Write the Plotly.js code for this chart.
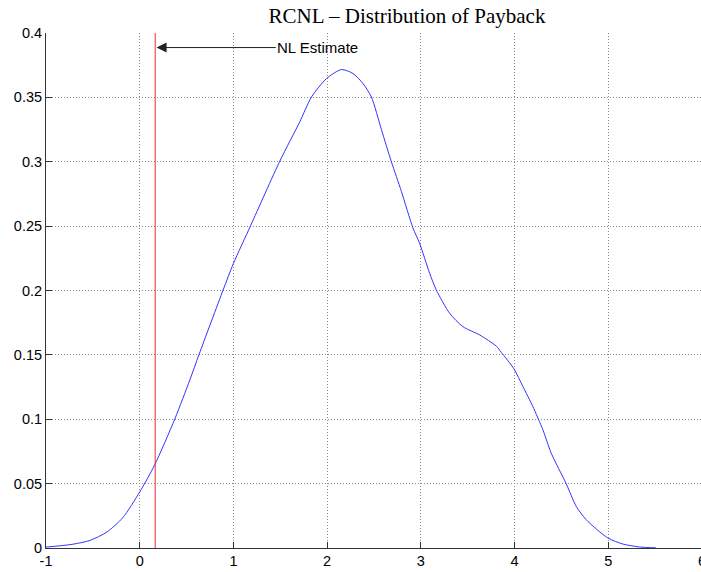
<!DOCTYPE html>
<html>
<head>
<meta charset="utf-8">
<script src="https://cdn.plot.ly/plotly-3.0.1.min.js"></script>
<style>
  html, body { margin: 0; padding: 0; overflow: hidden; background: #fff; }
  #chart { width: 710px; height: 572px; }
</style>
</head>
<body>
<div id="chart"></div>
<script>
// Kernel density of the payback estimate (RCNL model)
const payback = [-1.0, -0.85, -0.7, -0.53, -0.35, -0.18, 0.0, 0.16, 0.375, 0.535, 0.634, 0.89, 1.0,
  1.186, 1.495, 1.708, 1.833, 1.993, 2.153, 2.277, 2.383, 2.472, 2.579, 2.686, 2.792, 2.916,
  2.987, 3.094, 3.165, 3.307, 3.449, 3.627, 3.805, 3.858, 3.993, 4.089, 4.195, 4.302, 4.391,
  4.551, 4.658, 4.764, 4.995, 5.155, 5.333, 5.51];
const density = [0.0007, 0.0017, 0.0031, 0.0059, 0.0124, 0.0236, 0.0435, 0.0646, 0.1003, 0.1306,
  0.1505, 0.2004, 0.221, 0.2508, 0.3005, 0.331, 0.3503, 0.3646, 0.3716, 0.3685, 0.3607, 0.3503,
  0.325, 0.2999, 0.277, 0.2485, 0.2366, 0.2133, 0.2004, 0.1823, 0.1719, 0.1655, 0.1568, 0.152,
  0.1392, 0.1254, 0.1099, 0.0918, 0.0737, 0.0499, 0.0323, 0.022, 0.0078, 0.0031, 0.0008, 0.0001];

// Point estimate from the nested logit model
const nlEstimate = 0.165;
const nlLabel = 'NL Estimate';

const xTicks = [-1, 0, 1, 2, 3, 4, 5, 6];
const xTickText = ['-1', '0', '1', '2', '3', '4', '5', '6'];
const yTicks = [0, 0.05, 0.1, 0.15, 0.2, 0.25, 0.3, 0.35, 0.4];
const yTickText = ['0', '0.05', '0.1', '0.15', '0.2', '0.25', '0.3', '0.35', '0.4'];

const axisFont = { family: 'Liberation Sans, Arial, sans-serif', size: 14.5, color: '#000' };

const traces = [
  {
    x: payback, y: density, type: 'scatter', mode: 'lines',
    line: { color: '#3333ff', width: 1, shape: 'spline', smoothing: 0.7 },
    hoverinfo: 'skip'
  },
  {
    x: [nlEstimate, nlEstimate], y: [0, 0.4], type: 'scatter', mode: 'lines',
    line: { color: 'rgb(235,45,45)', width: 1 },
    hoverinfo: 'skip'
  }
];

const gridStyle = { showgrid: true, gridcolor: '#8a8a8a', gridwidth: 1, griddash: '1px,2px' };

const layout = {
  width: 710, height: 572,
  margin: { l: 46, r: 8, t: 32.7, b: 23.7, pad: 0 },
  paper_bgcolor: '#fff', plot_bgcolor: '#fff',
  showlegend: false,
  title: {
    text: 'RCNL \u2013 Distribution of Payback',
    font: { family: 'Liberation Serif, Times New Roman, serif', size: 21, color: '#000' },
    x: 407 / 710, xref: 'container', xanchor: 'center',
    y: 1 - 16 / 572, yref: 'container', yanchor: 'middle'
  },
  xaxis: Object.assign({
    range: [-1, 6], tickmode: 'array', tickvals: xTicks, ticktext: xTickText,
    ticks: 'inside', ticklen: 6, tickcolor: '#333', tickwidth: 1,
    showline: true, linecolor: '#333', linewidth: 1, mirror: false,
    zeroline: false, tickfont: axisFont, fixedrange: true
  }, gridStyle),
  yaxis: Object.assign({
    range: [0, 0.4], tickmode: 'array', tickvals: yTicks, ticktext: yTickText,
    ticks: 'inside', ticklen: 6, tickcolor: '#333', tickwidth: 1,
    showline: true, linecolor: '#333', linewidth: 1, mirror: false,
    zeroline: false, tickfont: axisFont, fixedrange: true
  }, gridStyle),
  annotations: [
    {
      x: nlEstimate + 0.015, y: 0.3887, xref: 'x', yref: 'y',
      ax: 1.452, ay: 0.3887, axref: 'x', ayref: 'y',
      text: nlLabel, xanchor: 'left', yanchor: 'middle',
      font: { family: 'Liberation Sans, Arial, sans-serif', size: 15, color: '#000' },
      showarrow: true, arrowhead: 2, arrowsize: 2, arrowwidth: 1, arrowcolor: '#222',
      borderpad: 0
    }
  ]
};

Plotly.newPlot('chart', traces, layout, { staticPlot: true, displayModeBar: false });
</script>
</body>
</html>
